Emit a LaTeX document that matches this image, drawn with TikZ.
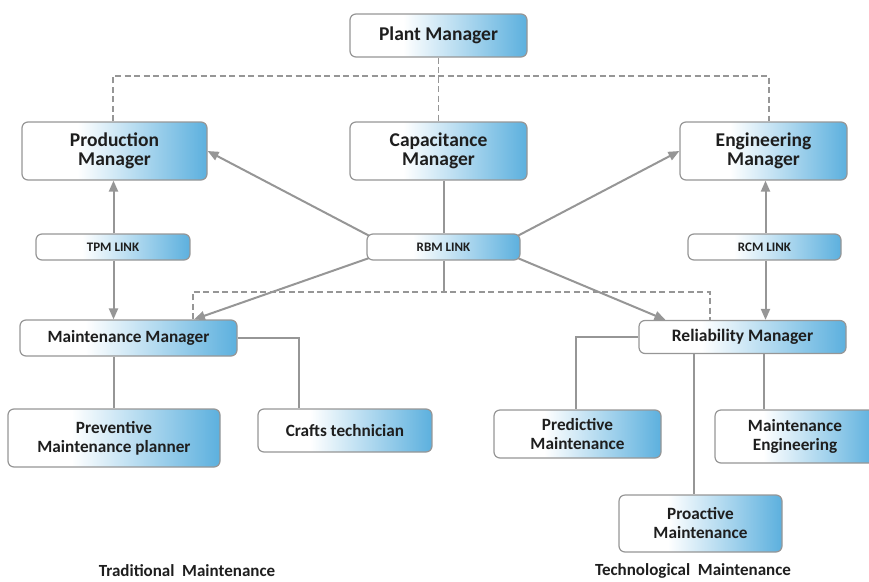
\documentclass[tikz,border=0pt]{standalone}
\usepackage{fontspec}
\setmainfont{Carlito}
\usetikzlibrary{arrows.meta,calc,backgrounds}
\definecolor{boxblue}{RGB}{92,176,222}
\definecolor{linegray}{RGB}{150,150,150}
\definecolor{edgegray}{RGB}{150,150,150}
\definecolor{txt}{RGB}{30,30,30}
\pgfdeclarehorizontalshading{boxshade}{100bp}{color(0bp)=(white); color(40bp)=(white); color(75bp)=(boxblue); color(100bp)=(boxblue)}
\tikzset{
  box/.style={draw=edgegray, line width=1.2pt, rounded corners=6pt, shade, shading=boxshade,
    text=txt, font=\bfseries, align=center, inner sep=0pt},
  big/.style={font=\bfseries\fontsize{19.5}{19}\selectfont},
  mid/.style={font=\bfseries\fontsize{17.2}{19}\selectfont},
  small/.style={font=\bfseries\fontsize{13}{14}\selectfont},
  link/.style={draw=linegray, line width=2pt},
  arr/.style={link, -{Triangle[width=9pt,length=11pt]}},
  dashlink/.style={draw=linegray, line width=1.6pt, dash pattern=on 6pt off 3.5pt},
  caption/.style={text=txt, font=\bfseries\fontsize{17}{19}\selectfont}
}
\begin{document}
\begin{tikzpicture}[x=1pt,y=-1pt]
\useasboundingbox (0,0) rectangle (869,581);

% top level
\node[box,big,minimum width=177pt,minimum height=43pt] (plant) at (438.5,35.5) {Plant Manager};
\node[box,big,minimum width=185pt,minimum height=58pt] (prod) at (114.5,151) {Production\\Manager};
\node[box,big,minimum width=177pt,minimum height=58pt] (cap) at (438.5,151) {Capacitance\\Manager};
\node[box,big,minimum width=167pt,minimum height=58pt] (eng) at (763.5,151) {Engineering\\Manager};

% link boxes
\node[box,small,minimum width=154pt,minimum height=26pt] (tpm) at (113,247) {TPM LINK};
\node[box,small,minimum width=153pt,minimum height=26pt] (rbm) at (443.5,247) {RBM LINK};
\node[box,small,minimum width=153pt,minimum height=26pt] (rcm) at (764.5,247) {RCM LINK};

% managers
\node[box,mid,minimum width=217pt,minimum height=36pt] (mm) at (128.5,338) {Maintenance Manager};
\node[box,font=\bfseries\fontsize{17.5}{19}\selectfont,minimum width=207pt,minimum height=33pt] (rel) at (742.5,337) {Reliability Manager};

% lower level
\node[box,mid,minimum width=212pt,minimum height=58pt] (prev) at (114,438) {Preventive\\Maintenance planner};
\node[box,mid,minimum width=174pt,minimum height=43pt] (craft) at (345,430.5) {Crafts technician};
\node[box,mid,minimum width=167pt,minimum height=48pt] (pred) at (577.5,434) {Predictive\\Maintenance};
\node[box,mid,minimum width=160pt,minimum height=53pt] (meng) at (795,436.5) {Maintenance\\Engineering};
\node[box,mid,minimum width=163pt,minimum height=57pt] (proa) at (700.5,523.5) {Proactive\\Maintenance};

% group captions
\node[caption] (trad) at (187,570.5) {Traditional\ \ Maintenance};
\node[caption] (tech) at (693,570.5) {Technological\ \ Maintenance};

\begin{scope}[on background layer]
  % dashed reporting lines from the plant manager
  \coordinate (dtop) at (438,76);
  \draw[dashlink] (plant.south) -- (cap.north);
  \draw[dashlink] (prod.north -| 113,0) |- (dtop) -| (eng.north -| 769,0);

  % capacitance manager through RBM link
  \draw[link] (cap.south -| 443.5,0) -- (rbm.north -| 443.5,0);
  \coordinate (rbmjoin) at (443.5,292);
  \draw[link] (rbm.south -| rbmjoin) -- (rbmjoin);
  \draw[dashlink] ($(mm.north west)!0.795!(mm.north east)$) |- (rbmjoin) -| ($(rel.north west)!0.345!(rel.north east)$);

  % RBM link arrows
  \draw[arr] ($(rbm.north west)+(4,3)$) -- (prod.east);
  \draw[arr] ($(rbm.north east)+(-4,3)$) -- (eng.west);
  \draw[arr] ($(rbm.south west)+(4,-3)$) -- ($(mm.north west)!0.8!(mm.north east)$);
  \draw[arr] ($(rbm.south east)+(-4,-3)$) -- ($(rel.north west)!0.13!(rel.north east)$);

  % TPM and RCM links
  \draw[arr] (tpm.north -| 113.5,0) -- (prod.south -| 113.5,0);
  \draw[arr] (tpm.south -| 113.5,0) -- (mm.north -| 113.5,0);
  \draw[arr] (rcm.north -| 765.5,0) -- (eng.south -| 765.5,0);
  \draw[arr] (rcm.south -| 765.5,0) -- (rel.north -| 765.5,0);

  % traditional maintenance branch
  \draw[link] (mm.south -| 113.5,0) -- (prev.north -| 113.5,0);
  \draw[link] (mm.east) -| (craft.north -| 298.5,0);

  % technological maintenance branch
  \draw[link] (rel.west) -| (pred.north -| 575.5,0);
  \draw[link] (rel.south -| 693.5,0) -- (proa.north -| 693.5,0);
  \draw[link] (rel.south -| 763.5,0) -- (meng.north -| 763.5,0);
\end{scope}
\end{tikzpicture}
\end{document}
